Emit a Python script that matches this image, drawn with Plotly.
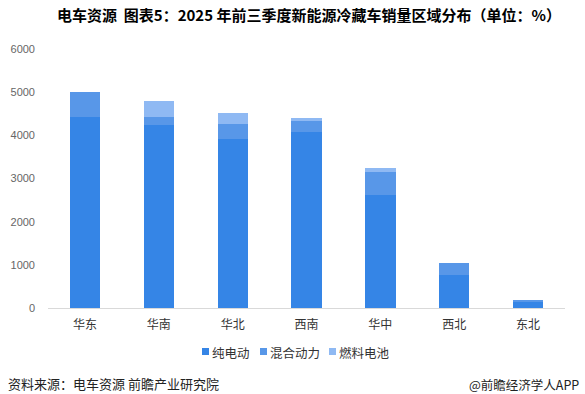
import plotly.graph_objects as go

categories = ["华东", "华南", "华北", "西南", "华中", "西北", "东北"]
pure_ev = [4420, 4240, 3915, 4077, 2620, 765, 160]
hybrid = [580, 185, 347, 278, 530, 280, 25]
fuel_cell = [0, 370, 255, 46, 93, 0, 0]
series_names = ["纯电动", "混合动力", "燃料电池"]
colors = ["rgb(53,133,230)", "rgb(88,151,232)", "rgb(143,185,243)"]
yticks = [0, 1000, 2000, 3000, 4000, 5000, 6000]

font_cjk = "Noto Sans CJK SC"
W, H = 585, 394
L, R, T, B = 48, 20, 49, 86
PW, PH = W - L - R, H - T - B


def px(xp):
    return (xp - L) / PW


def py(yp):
    return (H - B - yp) / PH


fig = go.Figure()
for name, vals, c in zip(series_names, [pure_ev, hybrid, fuel_cell], colors):
    fig.add_trace(go.Bar(x=categories, y=vals, name=name, marker=dict(color=c, line=dict(width=0)),
                         width=0.41, showlegend=False))

fig.update_layout(
    barmode="stack",
    width=W, height=H,
    margin=dict(l=L, r=R, t=T, b=B, autoexpand=False),
    plot_bgcolor="white", paper_bgcolor="white",
    font=dict(family=font_cjk, color="#333"),
    showlegend=False,
    title=dict(text="<b>电车资源  图表5：2025 年前三季度新能源冷藏车销量区域分布（单位：%）</b>",
               x=57 / W, xanchor="left", y=1 - 16 / H, yanchor="middle",
               font=dict(size=15, color="#000", family=font_cjk)),
)
fig.update_xaxes(showline=True, linecolor="#d9d9d9", linewidth=1, ticks="",
                 tickfont=dict(size=12, color="#333"), showgrid=False, ticklabelstandoff=6)
fig.update_yaxes(range=[0, 6000], tickvals=yticks, showgrid=False, zeroline=False,
                 tickfont=dict(size=11, color="#666", family="Liberation Sans"), ticklabelstandoff=12)

# legend (manual, compact like the reference)
leg_sq_x = [202, 260, 329]
for name, c, sx in zip(series_names, colors, leg_sq_x):
    fig.add_shape(type="rect", xref="paper", yref="paper",
                  x0=px(sx), x1=px(sx + 7), y0=py(355), y1=py(348),
                  fillcolor=c, line=dict(width=0))
    fig.add_annotation(text=name, xref="paper", yref="paper", x=px(sx + 8), y=py(352),
                       xanchor="left", yanchor="middle", showarrow=False,
                       font=dict(size=12.5, color="#333"))

fig.add_annotation(text="资料来源：电车资源 前瞻产业研究院", xref="paper", yref="paper",
                   x=px(6), y=py(383), xanchor="left", yanchor="middle", showarrow=False,
                   font=dict(size=13, color="#222"))
fig.add_annotation(text="@前瞻经济学人APP", xref="paper", yref="paper",
                   x=px(581), y=py(384), xanchor="right", yanchor="middle", showarrow=False,
                   font=dict(size=12.5, color="#222"))

fig.write_html("out.html", config={"displayModeBar": False},
               post_script="document.body.style.margin='0';")
